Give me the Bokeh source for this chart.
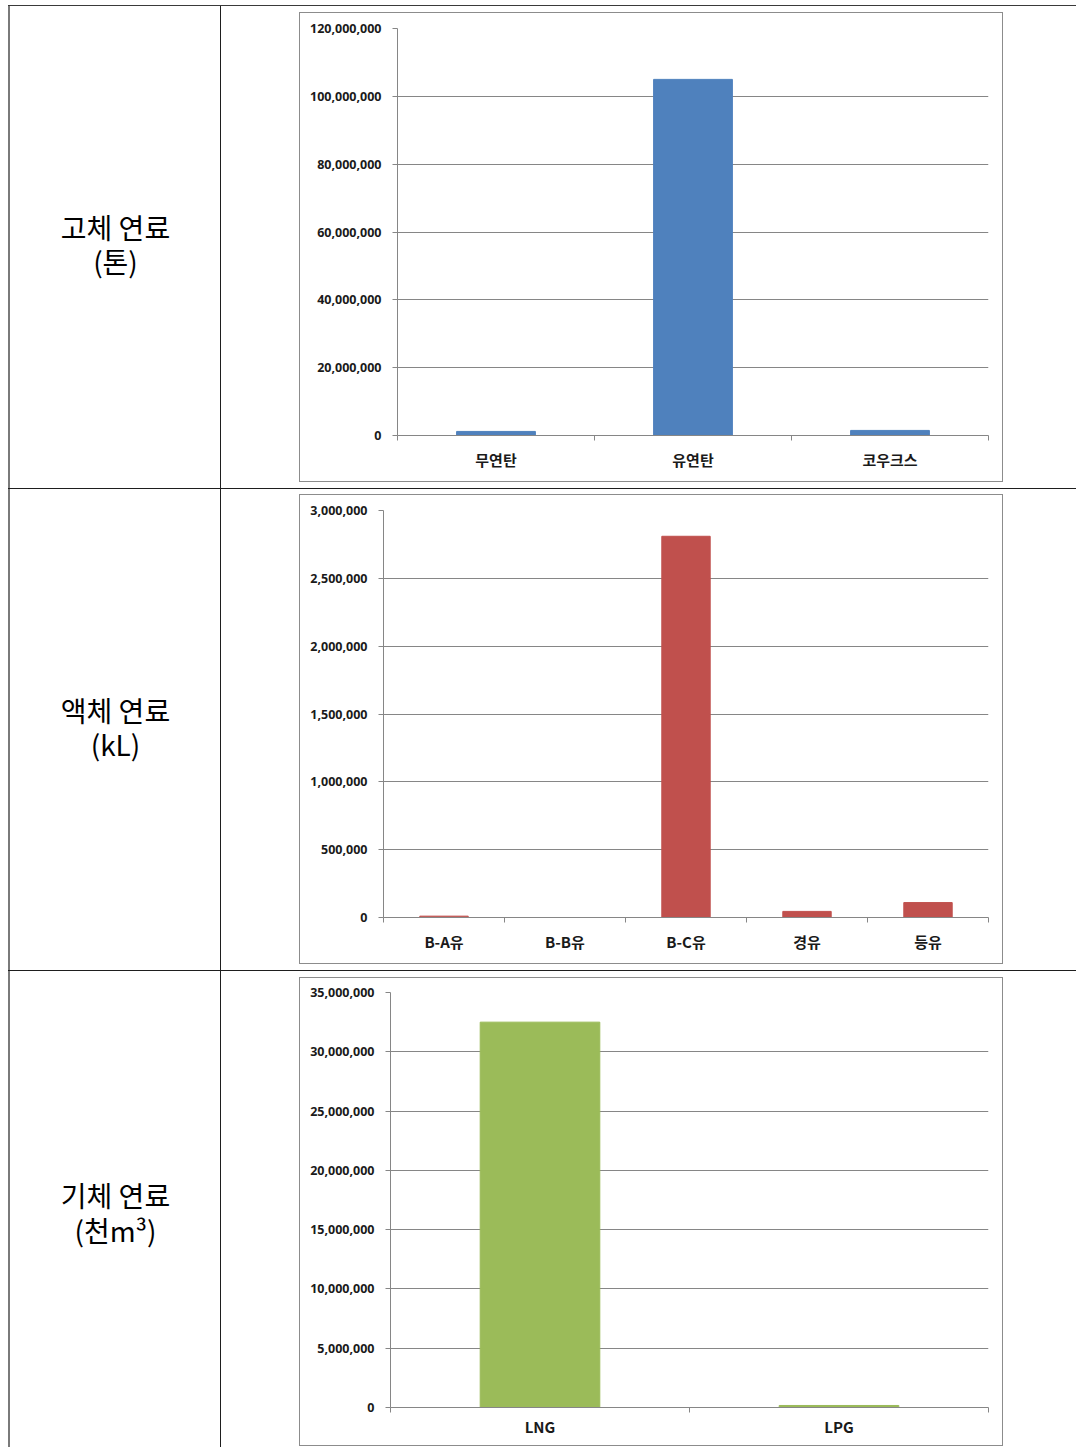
from bokeh.plotting import figure
from bokeh.layouts import row, column
from bokeh.models import Range1d, FixedTicker, NumeralTickFormatter, Spacer
from bokeh.core.properties import value
from bokeh.embed import file_html
from bokeh.resources import INLINE

# ---- data ----
solid_cats = ["무연탄", "유연탄", "코우크스"]
solid_vals = [1200000, 105000000, 1500000]
solid_ticks = [0, 20000000, 40000000, 60000000, 80000000, 100000000, 120000000]

liquid_cats = ["B-A유", "B-B유", "B-C유", "경유", "등유"]
liquid_vals = [10000, 0, 2810000, 45000, 110000]
liquid_ticks = [0, 500000, 1000000, 1500000, 2000000, 2500000, 3000000]

gas_cats = ["LNG", "LPG"]
gas_vals = [32500000, 170000]
gas_ticks = [0, 5000000, 10000000, 15000000, 20000000, 25000000, 30000000, 35000000]

row_labels = [["고체 연료", "(톤)"], ["액체 연료", "(kL)"], ["기체 연료", "(천m³)"]]

COLORS = ["#4F81BD", "#C0504D", "#9BBB59"]
GRAY = "#868686"
LINE = "#1e1e1e"
KR = "Noto Sans CJK KR"


def label_fig(lines, h):
    p = figure(width=213, height=h, x_range=Range1d(0, 211), y_range=Range1d(h, 0),
               output_backend="svg", toolbar_location=None, title=None,
               x_axis_location=None, y_axis_location=None,
               min_border=0, outline_line_color=None,
               styles={"border-left": "2px solid #7a7a7a", "border-right": f"1px solid {LINE}"})
    p.grid.visible = False
    p.text(x=[104, 104], y=[236, 276], text=lines,
           text_font=value(KR), text_font_size="28px", text_color="#000000",
           text_align="center", text_baseline="middle")
    return p


def chart(cats, vals, ticks, color, left, frame_w, top, frame_h, height, mt, mb, standoff):
    n = len(cats)
    width = 704
    right = width - left - frame_w
    bottom = height - top - frame_h
    p = figure(width=width, height=height, title=None,
               x_range=Range1d(-0.5, n - 0.5), y_range=Range1d(0, ticks[-1]),
               output_backend="svg", toolbar_location=None,
               min_border_left=left, min_border_right=right,
               min_border_top=top, min_border_bottom=bottom,
               outline_line_color=None, background_fill_color="white",
               border_fill_color="white",
               styles={"border": "1px solid #8c8c8c"},
               margin=(mt, 73, mb, 78))
    xs = list(range(n))
    p.vbar(x=xs, top=vals, width=0.4, color=color)

    p.xgrid.visible = False
    p.ygrid.ticker = FixedTicker(ticks=ticks)
    p.ygrid.grid_line_color = GRAY
    p.ygrid.grid_line_width = 1

    ya = p.yaxis[0]
    ya.ticker = FixedTicker(ticks=ticks)
    ya.formatter = NumeralTickFormatter(format="0,0")
    ya.axis_line_color = GRAY
    ya.major_tick_line_color = GRAY
    ya.major_tick_out = 5
    ya.major_tick_in = 0
    ya.minor_tick_line_color = None
    ya.major_label_text_font = "Noto Sans"
    ya.major_label_text_font_style = "bold"
    ya.major_label_text_font_size = "12.5px"
    ya.major_label_text_color = "#1a1a1a"
    ya.major_label_standoff = 11

    xa = p.xaxis[0]
    xa.ticker = FixedTicker(ticks=xs, minor_ticks=[i - 0.5 for i in range(n + 1)])
    xa.major_label_overrides = {i: c for i, c in enumerate(cats)}
    xa.axis_line_color = GRAY
    xa.major_tick_line_color = None
    xa.major_tick_out = 0
    xa.major_tick_in = 0
    xa.minor_tick_line_color = GRAY
    xa.minor_tick_out = 5
    xa.minor_tick_in = 0
    xa.major_label_text_font = KR
    xa.major_label_text_font_style = "bold"
    xa.major_label_text_font_size = "15px"
    xa.major_label_text_color = "#1a1a1a"
    xa.major_label_standoff = standoff
    return p


c1 = chart(solid_cats, solid_vals, solid_ticks, COLORS[0], 97, 591, 15, 407, 470, 6, 6, 8)
c2 = chart(liquid_cats, liquid_vals, liquid_ticks, COLORS[1], 83, 605, 15, 407, 470, 5, 6, 8)
c3 = chart(gas_cats, gas_vals, gas_ticks, COLORS[2], 90, 598, 14, 415, 469, 6, 1, 3)

l1 = label_fig(row_labels[0], 482)
l2 = label_fig(row_labels[1], 481)
l3 = label_fig(row_labels[2], 476)

r1 = row(l1, c1, styles={"border-top": "1px solid #3a3a3a", "border-bottom": f"1px solid {LINE}"})
r2 = row(l2, c2, styles={"border-bottom": f"1px solid {LINE}"})
r3 = row(l3, c3)
table = column(r1, r2, r3)
layout = column(Spacer(width=1076, height=5), row(Spacer(width=8, height=10), table))

open("out.html", "w").write(file_html(layout, INLINE))
